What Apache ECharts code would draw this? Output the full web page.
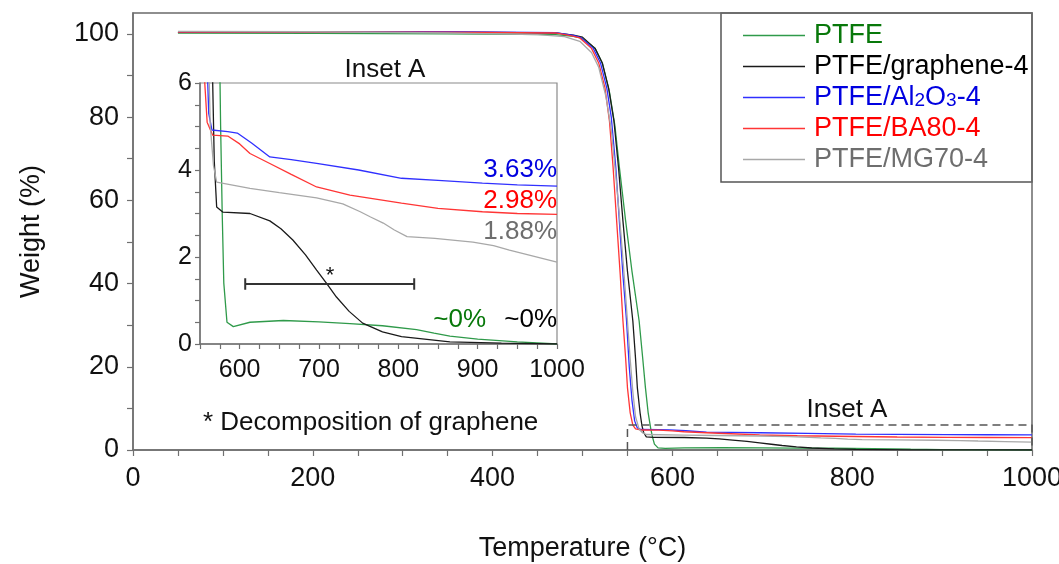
<!DOCTYPE html>
<html>
<head>
<meta charset="utf-8">
<script src="https://cdn.jsdelivr.net/npm/echarts@6/dist/echarts.min.js"></script>
<style>
  html, body { margin: 0; padding: 0; background: #fff; }
  #main { width: 1059px; height: 564px; }
</style>
</head>
<body>
<div id="main"></div>
<script>
var myChart = echarts.init(document.getElementById('main'));

// [temperature (°C), weight (%)]
var ptfe = [[50,100.2],[200,100.1],[350,100.0],[470,99.8],[490,99.4],[500,98.9],[514,96.5],[522,93],[530,86],[536,78],[541,68],[548,55],[555,43],[563,31],[567,22],[570,15],[573,9],[576,5],[578,3],[580,1.4],[584,0.5],[592,0.4],[613,0.5],[655,0.54],[700,0.51],[739,0.47],[780,0.42],[823,0.33],[845,0.25],[865,0.18],[900,0.11],[950,0.05],[1000,0.0]];
var graphene = [[50,100.4],[200,100.4],[350,100.4],[470,100.2],[490,99.7],[500,99.2],[514,96.5],[522,93],[529,87],[535,79],[540,68],[545,55],[550,43],[556,31],[559,22],[561,15],[564,9],[566,6],[568,4.2],[571,3.15],[579,3.03],[613,3.0],[638,2.83],[652,2.65],[667,2.39],[683,2.05],[697,1.70],[710,1.38],[722,1.08],[738,0.75],[755,0.48],[780,0.28],[804,0.17],[865,0.05],[930,0.02],[1000,0.0]];
var al2o3 = [[50,100.4],[200,100.4],[350,100.5],[470,100.3],[490,99.6],[498,99.1],[512,96.5],[520,93],[527,87],[532,80],[537,68],[541,55],[545,42],[549,31],[552,20],[555,12],[558,7],[561,5.3],[565,4.92],[585,4.88],[597,4.85],[615,4.62],[638,4.30],[665,4.24],[697,4.15],[750,4.0],[804,3.81],[850,3.76],[906,3.70],[950,3.66],[1000,3.63]];
var ba80 = [[50,100.4],[200,100.4],[350,100.4],[470,100.2],[488,99.5],[497,99],[510,96.5],[518,93],[525,87],[530,79],[534,68],[538,55],[542,42],[545,31],[548,22],[550,15],[553,9],[556,6],[559,5.1],[566,4.80],[585,4.78],[600,4.6],[613,4.38],[638,4.15],[665,3.9],[697,3.61],[739,3.42],[804,3.24],[850,3.12],[906,3.04],[950,3.0],[1000,2.98]];
var mg70 = [[50,100.6],[200,100.5],[350,100.2],[450,99.8],[480,99.3],[497,98.2],[510,95.5],[518,92],[526,85],[532,77],[537,66],[542,54],[546,43],[550,31],[553,22],[556,14],[559,8],[563,5],[567,4.1],[571,3.72],[613,3.58],[650,3.48],[697,3.36],[730,3.22],[752,3.04],[765,2.92],[781,2.78],[795,2.62],[811,2.47],[846,2.43],[894,2.34],[920,2.26],[940,2.16],[970,2.02],[1000,1.88]];

// dashed box marking the inset range, and the graphene decomposition range
var insetBox = [[550,0],[550,6],[1000,6],[1000,0]];
var decompRange = [[607,1.51],[607,1.25],[607,1.38],[820,1.38],[820,1.51],[820,1.25]];

var names = ['PTFE', 'PTFE/graphene-4', 'PTFE/Al2O3-4', 'PTFE/BA80-4', 'PTFE/MG70-4'];
var lineColors = ['#2f9a4a', '#1a1a1a', '#3030ff', '#ff3535', '#a8a8a8'];
var textColors = ['#08780a', '#000000', '#0000e0', '#ff0000', '#6e6e6e'];

var mainXLabels = [0, 200, 400, 600, 800, 1000];
var mainXTicks = [0,50,100,150,200,250,300,350,400,450,500,550,600,650,700,750,800,850,900,950,1000];
var mainYLabels = [0, 20, 40, 60, 80, 100];
var mainYTicks = [0,10,20,30,40,50,60,70,80,90,100];
var insetXLabels = [600, 700, 800, 900, 1000];
var insetXTicks = [550,575,600,625,650,675,700,725,750,775,800,825,850,875,900,925,950,975,1000];
var insetYLabels = [0, 2, 4, 6];
var insetYTicks = [0,0.5,1,1.5,2,2.5,3,3.5,4,4.5,5,5.5,6];

var font = '"Liberation Sans", Arial, sans-serif';
var axisGrey = '#707070';

var allData = [ptfe, graphene, al2o3, ba80, mg70];
var series = [];
for (var i = 0; i < allData.length; i++) {
	series.push({
		name: names[i], type: 'line', xAxisIndex: 0, yAxisIndex: 0,
		data: allData[i], symbol: 'none', silent: true,
		lineStyle: { color: lineColors[i], width: 1.3 }, itemStyle: { color: lineColors[i] }
	});
}
for (var i = 0; i < allData.length; i++) {
	series.push({
		name: names[i] + ' inset', type: 'line', xAxisIndex: 1, yAxisIndex: 1,
		data: allData[i], symbol: 'none', silent: true, clip: true,
		lineStyle: { color: lineColors[i], width: 1.3 }
	});
}
series.push({
	type: 'line', xAxisIndex: 0, yAxisIndex: 0, data: insetBox, symbol: 'none', silent: true,
	lineStyle: { color: '#555', width: 1.5, type: [8, 5] }
});
series.push({
	type: 'line', xAxisIndex: 1, yAxisIndex: 1, data: decompRange, symbol: 'none', silent: true,
	lineStyle: { color: '#333', width: 2 }
});

function axisCommon(labels, ticks, size) {
	return {
		axisLine: { show: true, onZero: false, lineStyle: { color: axisGrey, width: 1.5 } },
		axisTick: { show: true, inside: false, length: 6, customValues: ticks, lineStyle: { color: axisGrey, width: 1.2 } },
		axisLabel: { customValues: labels, fontSize: size, color: '#111', fontFamily: font,
			formatter: function (v) { return String(v); } },
		splitLine: { show: false }
	};
}

var mx = axisCommon(mainXLabels, mainXTicks, 27);
mx.type = 'value'; mx.gridIndex = 0; mx.min = 0; mx.max = 1000;
mx.axisLabel.margin = 15;
mx.name = 'Temperature (°C)'; mx.nameLocation = 'middle'; mx.nameGap = 85;
mx.nameTextStyle = { fontSize: 27, color: '#111', fontFamily: font };

var my = axisCommon(mainYLabels, mainYTicks, 27);
my.type = 'value'; my.gridIndex = 0; my.min = 0; my.max = 105;
my.axisLabel.margin = 14;
my.name = 'Weight (%)'; my.nameLocation = 'middle'; my.nameGap = 88; my.nameRotate = 90;
my.nameTextStyle = { fontSize: 27, color: '#111', fontFamily: font };

var ix = axisCommon(insetXLabels, insetXTicks, 25);
ix.type = 'value'; ix.gridIndex = 1; ix.min = 550; ix.max = 1000;
ix.axisLabel.margin = 14; ix.axisTick.length = 5;

var iy = axisCommon(insetYLabels, insetYTicks, 25);
iy.type = 'value'; iy.gridIndex = 1; iy.min = 0; iy.max = 6;
iy.axisLabel.margin = 8; iy.axisTick.length = 5;

option = {
	animation: false,
	backgroundColor: '#fff',
	textStyle: { fontFamily: font },
	grid: [
		{ left: 133, top: 13, right: 27, bottom: 114, outerBoundsMode: 'none', containLabel: false,
		  show: true, borderColor: '#6a6a6a', borderWidth: 1.5 },
		{ left: 200, top: 83, width: 357, height: 261, outerBoundsMode: 'none', containLabel: false,
		  show: true, borderColor: '#8a8a8a', borderWidth: 1.2, backgroundColor: '#fff' }
	],
	xAxis: [mx, ix],
	yAxis: [my, iy],
	legend: {
		orient: 'vertical', left: 738, top: 17,
		icon: 'rect', itemWidth: 62, itemHeight: 1.5, itemGap: 4,
		data: names.map(function (n, k) { return { name: n, textStyle: { color: textColors[k] } }; }),
		formatter: function (n) { return n === 'PTFE/Al2O3-4' ? 'PTFE/Al{s|2}O{s|3}-4' : n; },
		textStyle: {
			fontSize: 27, lineHeight: 26, fontFamily: font, padding: [0, 0, 0, 4],
			rich: { s: { fontSize: 19, color: '#0000e0', verticalAlign: 'bottom', lineHeight: 26, fontFamily: font } }
		},
		selectedMode: false
	},
	graphic: [
		{ type: 'rect', z: -1, shape: { x: 721, y: 13, width: 311, height: 169 },
		  style: { fill: '#fff', stroke: '#555', lineWidth: 1.5 } },
		{ type: 'text', style: { text: 'Inset A', x: 385, y: 70, align: 'center', verticalAlign: 'middle', font: '26px ' + font, fill: '#111' } },
		{ type: 'text', style: { text: 'Inset A', x: 847, y: 410, align: 'center', verticalAlign: 'middle', font: '26px ' + font, fill: '#111' } },
		{ type: 'text', style: { text: '* Decomposition of graphene', x: 203, y: 423, align: 'left', verticalAlign: 'middle', font: '26px ' + font, fill: '#111' } },
		{ type: 'text', style: { text: '*', x: 330, y: 276, align: 'center', verticalAlign: 'middle', font: '22px ' + font, fill: '#111' } },
		{ type: 'text', style: { text: '3.63%', x: 557, y: 170, align: 'right', verticalAlign: 'middle', font: '26px ' + font, fill: '#0000e0' } },
		{ type: 'text', style: { text: '2.98%', x: 557, y: 201, align: 'right', verticalAlign: 'middle', font: '26px ' + font, fill: '#ff0000' } },
		{ type: 'text', style: { text: '1.88%', x: 557, y: 232, align: 'right', verticalAlign: 'middle', font: '26px ' + font, fill: '#6e6e6e' } },
		{ type: 'text', style: { text: '~0%', x: 486, y: 320, align: 'right', verticalAlign: 'middle', font: '26px ' + font, fill: '#08780a' } },
		{ type: 'text', style: { text: '~0%', x: 557, y: 320, align: 'right', verticalAlign: 'middle', font: '26px ' + font, fill: '#000' } }
	],
	series: series
};

myChart.setOption(option);
</script>
</body>
</html>
